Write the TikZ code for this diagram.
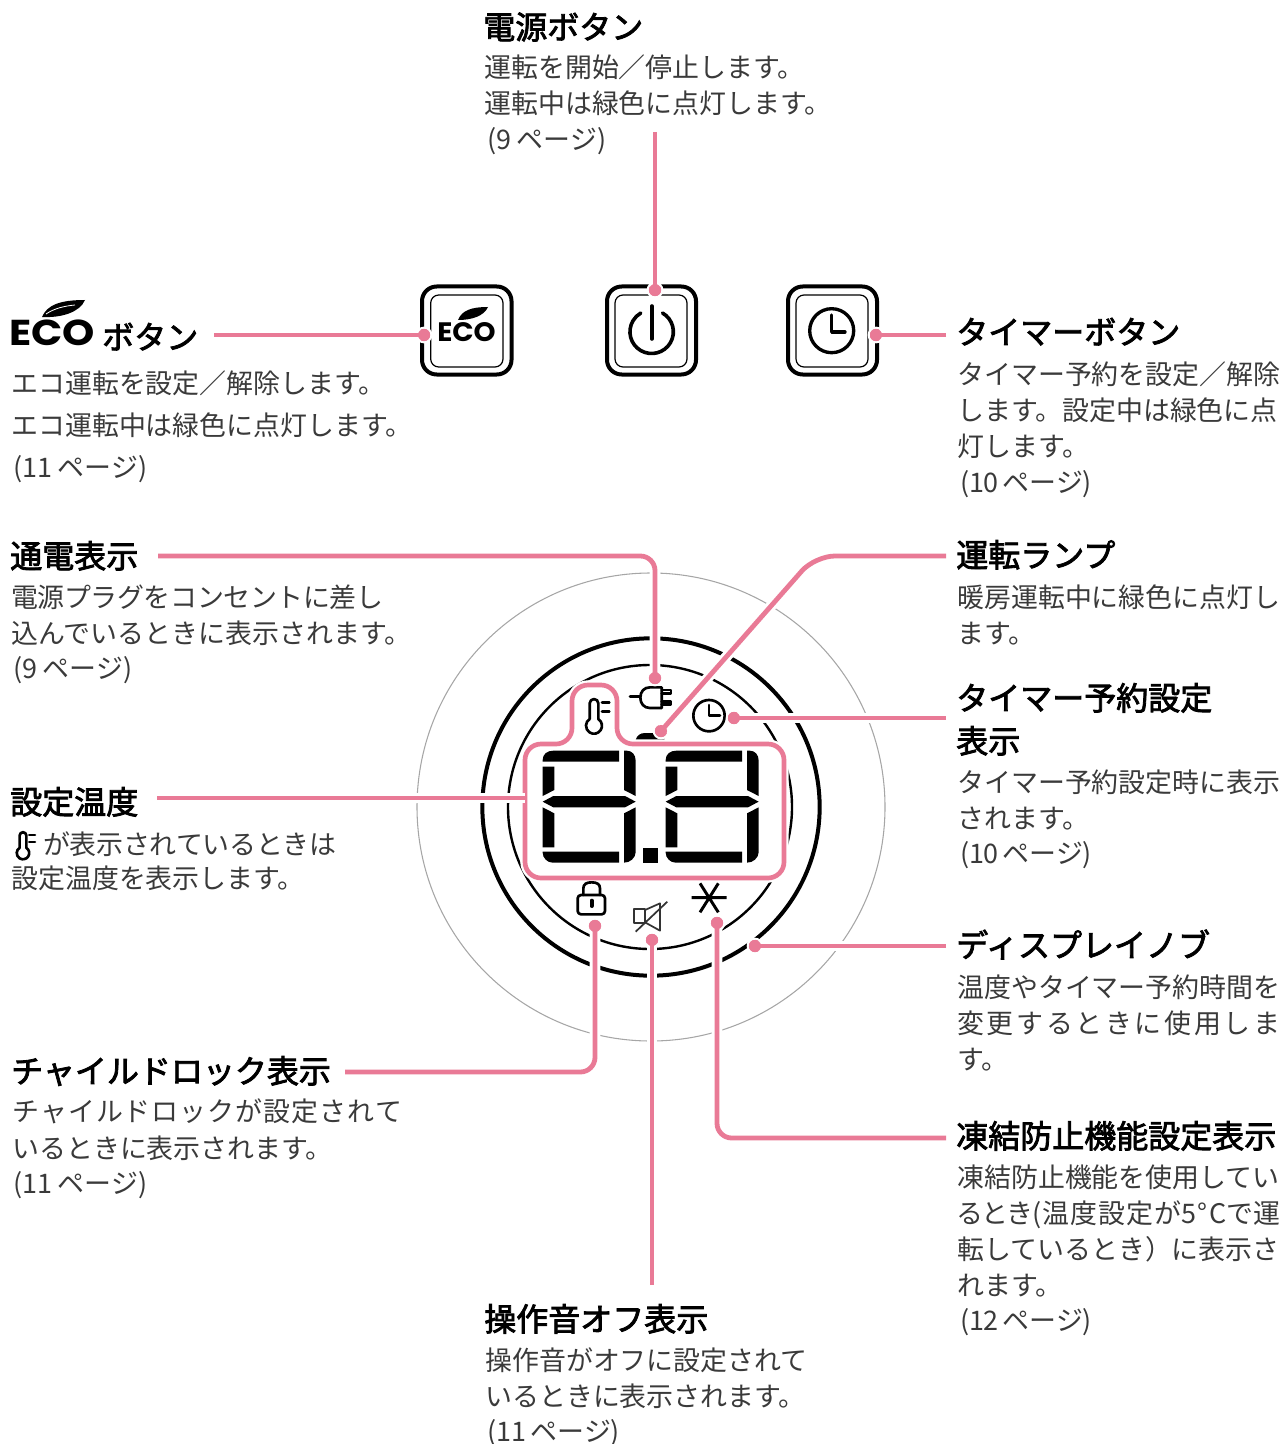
\documentclass[tikz,border=0pt]{standalone}
\usepackage{fontspec}
\setmainfont{Noto Sans CJK JP}
\newfontfamily\pfont[RawFeature={+palt}]{Noto Sans CJK JP}
\newfontfamily\tfont[FakeBold=2.5]{Noto Sans CJK JP}
\newfontfamily\logofont{Poppins}
\definecolor{pk}{HTML}{E97A96}
\definecolor{bodyc}{HTML}{3A3A3A}
\newcounter{tc}
\def\spa#1{\ifx#1\relax\unskip\else #1\hskip 0pt plus 1fil minus 1fil\expandafter\spa\fi}
\newcommand{\spr}[1]{\spa#1\relax}
\newcommand{\tl}[3]{\stepcounter{tc}\node[bodyt] (txt\arabic{tc}) at (#1,#2) {#3};}
\newcommand{\ttl}[3]{\stepcounter{tc}\node[titlet] (txt\arabic{tc}) at (#1,#2) {#3};}
\newcommand{\jl}[4]{\stepcounter{tc}\pgfmathsetlengthmacro{\mywd}{#3*0.75pt}\node[bodyt] (txt\arabic{tc}) at (#1,#2) {\hbox to \mywd{\spr{#4}}};}
\newcommand{\pl}[4]{\stepcounter{tc}\pgfmathsetlengthmacro{\mywd}{#3*0.75pt}\node[bodyt] (txt\arabic{tc}) at (#1,#2) {\pfont\hbox to \mywd{\spr{#4}}};}
\tikzset{
  bodyt/.style={anchor=base west,inner sep=0pt,xshift=-0.75pt,text=bodyc,font=\fontsize{20.2pt}{24pt}\selectfont},
  titlet/.style={anchor=base west,inner sep=0pt,xshift=-0.75pt,yshift=-0.75pt,text=black,font=\tfont\fontsize{24pt}{28pt}\selectfont},
  leader/.style={draw=pk,line width=3.6pt,preaction={draw=white,line width=8pt}},
  pdot/.style={circle,fill=pk,draw=white,line width=1.5pt,minimum size=11pt,inner sep=0pt},
  iconl/.style={draw=black,line width=2pt,line cap=round,line join=round},
  seg/.style={fill=black,draw=none},
  btnout/.style={draw=black,line width=3pt,rounded corners=11pt},
  btnin/.style={draw=black,line width=0.9pt,rounded corners=6pt},
  thermoicon/.pic={
    \begin{scope}[x=0.25pt,y=-0.25pt]
    \draw[iconl] (-13,-20) -- (-13,-67) arc[start angle=180,end angle=360,radius=13] -- (13,-20)
      arc[start angle=-57,end angle=237,radius=24] -- cycle;
    \draw[iconl] (24,-69) -- (46,-69) (24,-42) -- (46,-42);
    \end{scope}
  },
  lcddigit/.pic={
    \fill[seg] (0,33) -- (0,28) .. controls (0,10) and (14,0) .. (32,0) -- (229,0) -- (229,33) -- cycle;
    \fill[seg] (244,0) -- (252,0) .. controls (268,0) and (279,12) .. (279,30) -- (279,136) -- (244,118) -- cycle;
    \fill[seg] (0,48) -- (35,48) -- (35,118) -- (0,136) -- cycle;
    \fill[seg] (0,153) -- (32,136) -- (247,136) -- (279,153) -- (247,170) -- (32,170) -- cycle;
    \fill[seg] (0,170) -- (35,188) -- (35,290) -- (0,290) -- cycle;
    \fill[seg] (244,188) -- (279,170) -- (279,304) .. controls (279,322) and (262,336) .. (244,336) -- cycle;
    \fill[seg] (0,303) -- (229,303) -- (229,336) -- (30,336) .. controls (14,336) and (0,322) .. (0,306) -- cycle;
  }
}
\begin{document}
\begin{tikzpicture}[x=0.75pt,y=-0.75pt]
\useasboundingbox (0,0) rectangle (1283,1444);
% knob rings
\node[circle,draw=black!35,line width=0.8pt,minimum size=351pt,inner sep=0pt] (knobthin) at (651,807) {};
\node[circle,draw=black,line width=3pt,minimum size=253pt,inner sep=0pt] (knobthick) at (651,807) {};
\node[circle,draw=black,line width=1.8pt,minimum size=213pt,inner sep=0pt] (knobinner) at (650,807) {};
% lamp mark
\begin{scope}[shift={(470,660)},x=0.25pt,y=-0.25pt]
\fill (497,250) -- (497,240) .. controls (500,226) and (512,219) .. (525,219) -- (560,219) .. controls (575,219) and (585,230) .. (585,250) -- cycle;
\end{scope}
% frame
\draw[draw=pk,line width=3.5pt,rounded corners=12pt,fill=white,preaction={draw=white,line width=7pt}]
  (525,744) -- (572,744) -- (572,685) -- (617,685) -- (617,744) -- (784,744) -- (784,878) -- (525,878) -- cycle;
% LCD
\begin{scope}[shift={(470,660)},x=0.25pt,y=-0.25pt]
\pic at (218,272) {lcddigit};
\pic at (587,272) {lcddigit};
\fill (520,565) rectangle (565,608);
% plug
\draw[iconl] (480,110) -- (510,110);
\draw[iconl] (575,82) -- (540,82) .. controls (522,82) and (511,95) .. (511,113) .. controls (511,131) and (522,144) .. (540,144) -- (575,144) -- cycle;
\draw[iconl] (575,90) -- (603,90) -- (603,100) -- (575,100);
\draw[iconl] (575,124) -- (603,124) -- (603,134) -- (575,134);
% clock
\draw[iconl] (717,167) circle[radius=47];
\draw[iconl] (717,135) -- (717,167) -- (750,167);
% lock
\draw[iconl,rounded corners=2.5pt] (323,705) rectangle (405,763);
\draw[iconl] (340,705) -- (340,685) .. controls (340,672) and (350,667) .. (365,667) .. controls (380,667) and (390,672) .. (390,685) -- (390,705);
\draw[iconl,line width=3pt] (365,722) -- (365,738);
% mute
\draw[draw=black!80,line width=1.3pt,line join=round] (493,747) rectangle (525,790);
\draw[draw=black!80,line width=1.3pt,line join=round] (525,750) -- (570,730) -- (570,812) -- (525,787) -- cycle;
\draw[draw=black!80,line width=1.3pt] (497,815) -- (592,725);
% asterisk
\draw[draw=black,line width=2.2pt] (665,713) -- (770,713) (690,670) -- (745,757) (745,670) -- (690,757);
\end{scope}
\pic at (594,725.7) {thermoicon};
% buttons
\draw[btnout] (422,286.5) rectangle (511.5,374.5);
\draw[btnin] (430.7,295) rectangle (503,367);
\draw[btnout] (607,286.5) rectangle (696,374.5);
\draw[btnin] (615,295) rectangle (687,367);
\draw[btnout] (788,286.5) rectangle (877,374.5);
\draw[btnin] (796,295) rectangle (868,367);
% eco small
\node[anchor=base,inner sep=0pt,font=\logofont\bfseries\fontsize{20pt}{20pt}\selectfont] (ecos) at (466.5,341) {\scalebox{1.05}[1]{ECO}};
\fill (458,320) .. controls (462,310) and (472,307) .. (488,307) .. controls (484,316) and (472,320) .. (458,320) -- cycle;
% power icon
\draw[draw=black,line width=2.7pt,line cap=round] (651.7,306) -- (651.7,339);
\draw[draw=black,line width=2.7pt,line cap=round] (662.5,313) arc[start angle=-60,end angle=240,radius=21.7];
% timer icon
\draw[draw=black,line width=2.5pt] (831.7,330.7) circle[radius=22];
\draw[draw=black,line width=2.5pt,line cap=round,line join=round] (831.7,315) -- (831.7,332) -- (845,332);
% eco big logo
\node[anchor=base west,inner sep=0pt,font=\logofont\bfseries\fontsize{27pt}{27pt}\selectfont] (ecob) at (9,345) {\scalebox{1.14}[1]{ECO}};
\fill (42,317) .. controls (47,305) and (60,300) .. (85,300) .. controls (80,312) and (62,318) .. (42,317) -- cycle;
\draw[white,line width=0.6pt] (46,314) .. controls (55,308) and (65,306) .. (75,305);
% connector anchors
\coordinate (cPower) at (655,132);
\coordinate (cEco) at (214,335);
\coordinate (cTimer) at (946,335);
\coordinate (cPlug) at (158,556);
\coordinate (cLamp) at (946,556);
\coordinate (cSet) at (946,718);
\coordinate (cTemp) at (157,798);
\coordinate (cFrame) at (525,798);
\coordinate (cKnob) at (946,946);
\coordinate (cFrz) at (946,1138);
\coordinate (cMute) at (652,1285);
\coordinate (cLock) at (345,1072);
\node[pdot] (dPower) at (655,290) {};
\node[pdot] (dEco) at (424,335) {};
\node[pdot] (dTimer) at (876,335) {};
\node[pdot] (dPlug) at (655,678) {};
\node[pdot] (dLamp) at (661,731) {};
\node[pdot] (dSet) at (734,718) {};
\node[pdot] (dKnob) at (755,946) {};
\node[pdot] (dFrz) at (717,923) {};
\node[pdot] (dMute) at (652,940) {};
\node[pdot] (dLock) at (595,926) {};
\draw[leader] (cPower) -- (dPower.center);
\draw[leader] (cEco) -- (dEco.center);
\draw[leader] (cTimer) -- (dTimer.center);
\draw[leader,rounded corners=11pt] (cPlug) -- (655,556) -- (dPlug.center);
\draw[leader,rounded corners=15pt] (cLamp) -- (815,556) -- (dLamp.center);
\draw[leader] (cSet) -- (dSet.center);
\draw[leader] (cTemp) -- (cFrame);
\draw[leader] (cKnob) -- (dKnob.center);
\draw[leader,rounded corners=11pt] (cFrz) -- (717,1138) -- (dFrz.center);
\draw[leader] (cMute) -- (dMute.center);
\draw[leader,rounded corners=11pt] (cLock) -- (595,1072) -- (dLock.center);
\foreach \d in {dPower,dEco,dTimer,dPlug,dLamp,dSet,dKnob,dFrz,dMute,dLock} \fill[pk] (\d) circle[radius=6];
% texts
\ttl{484}{38}{電源ボタン}
\tl{485}{78}{運転を開始／停止します。}
\tl{485}{114}{運転中は緑色に点灯します。}
\pl{488}{150}{119}{(9\,ページ)}
\ttl{103}{348}{ボタン}
\tl{12}{393}{エコ運転を設定／解除します。}
\tl{12}{435}{エコ運転中は緑色に点灯します。}
\pl{14}{477}{134}{(11\,ページ)}
\ttl{957}{343}{タイマーボタン}
\tl{958}{384}{タイマー予約を設定／解除}
\tl{958}{420}{します。設定中は緑色に点}
\tl{958}{456}{灯します。}
\pl{961}{492}{131}{(10\,ページ)}
\ttl{11}{567}{通電表示}
\jl{12}{607}{372}{電源プラグをコンセントに差し}
\tl{12}{643}{込んでいるときに表示されます。}
\pl{14}{678}{119}{(9\,ページ)}
\ttl{11}{813}{設定温度}
\pic[scale=.78] at (23,853) {thermoicon};
\jl{44}{854}{293}{が表示されているときは}
\tl{12}{888}{設定温度を表示します。}
\ttl{12}{1082}{チャイルドロック表示}
\jl{13}{1121}{390}{チャイルドロックが設定されて}
\tl{13}{1158}{いるときに表示されます。}
\pl{14}{1193}{134}{(11\,ページ)}
\ttl{485}{1330}{操作音オフ表示}
\tl{486}{1370}{操作音がオフに設定されて}
\tl{486}{1406}{いるときに表示されます。}
\pl{488}{1441}{132}{(11\,ページ)}
\ttl{957}{566}{運転ランプ}
\tl{958}{607}{暖房運転中に緑色に点灯し}
\tl{958}{643}{ます。}
\ttl{957}{709}{タイマー予約設定}
\ttl{957}{752}{表示}
\tl{958}{792}{タイマー予約設定時に表示}
\tl{958}{828}{されます。}
\pl{961}{863}{131}{(10\,ページ)}
\ttl{957}{956}{ディスプレイノブ}
\tl{958}{997}{温度やタイマー予約時間を}
\jl{958}{1033}{323}{変更するときに使用しま}
\tl{958}{1069}{す。}
\ttl{957}{1147}{凍結防止機能設定表示}
\tl{958}{1187}{凍結防止機能を使用してい}
\pl{958}{1223}{323}{るとき(温度設定が5°Cで運}
\tl{958}{1259}{転しているとき）に表示さ}
\tl{958}{1295}{れます。}
\pl{961}{1330}{131}{(12\,ページ)}
\end{tikzpicture}
\end{document}
